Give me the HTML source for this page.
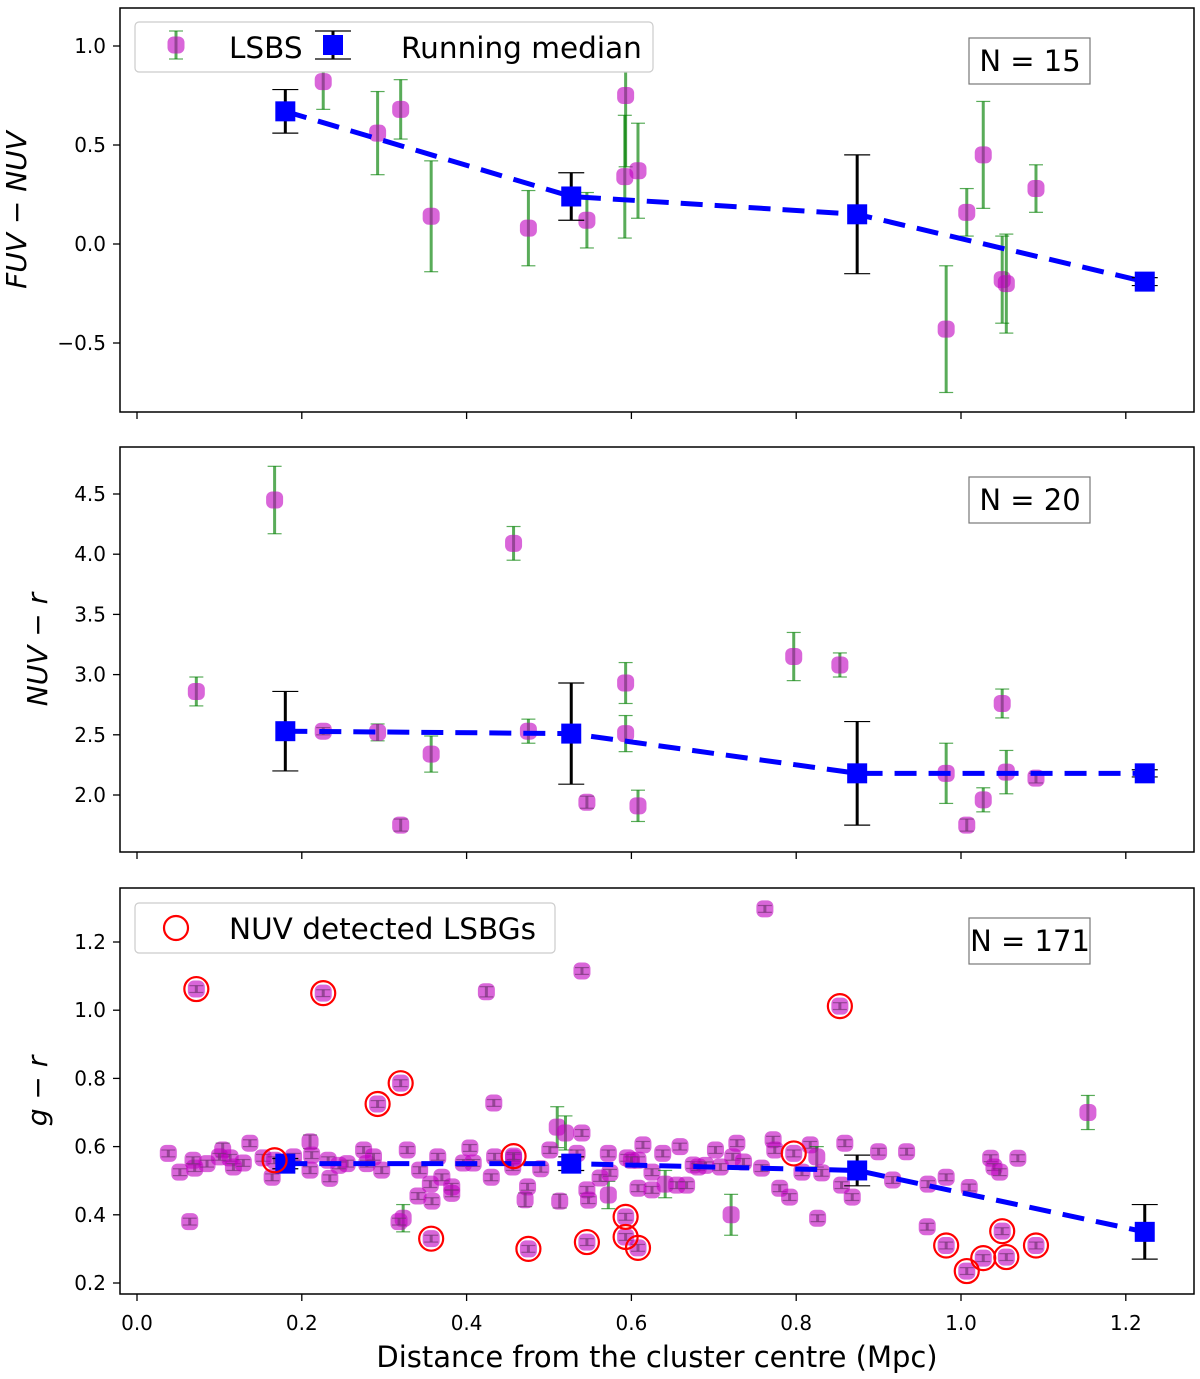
<!DOCTYPE html>
<html><head><meta charset="utf-8"><style>
html,body{margin:0;padding:0;background:#fff;}
svg{display:block;font-family:"DejaVu Sans","Liberation Sans",sans-serif;}
</style></head><body>
<svg id="chart" width="1200" height="1379" viewBox="0 0 1200 1379" xmlns="http://www.w3.org/2000/svg"></svg>
<script>
// ---------- DATA ----------
const p1X=[0.226,0.292,0.320,0.357,0.475,0.546,0.593,0.592,0.608,0.982,1.007,1.027,1.050,1.055,1.091];
const p1Y=[0.82,0.56,0.68,0.14,0.08,0.12,0.75,0.34,0.37,-0.43,0.16,0.45,-0.18,-0.20,0.28];
const p1E=[0.14,0.21,0.15,0.28,0.19,0.14,0.36,0.31,0.24,0.32,0.12,0.27,0.22,0.25,0.12];
const p2X=[0.072,0.167,0.226,0.292,0.320,0.357,0.457,0.475,0.546,0.593,0.593,0.608,0.797,0.853,0.982,1.007,1.027,1.050,1.055,1.091];
const p2Y=[2.86,4.45,2.53,2.52,1.75,2.34,4.09,2.53,1.94,2.93,2.51,1.91,3.15,3.08,2.18,1.75,1.96,2.76,2.19,2.14];
const p2E=[0.12,0.28,0.03,0.07,0.05,0.15,0.14,0.10,0.05,0.17,0.15,0.13,0.20,0.10,0.25,0.05,0.10,0.12,0.18,0.04];
const medX=[0.18,0.527,0.874,1.223];
const med1Y=[0.67,0.24,0.15,-0.19], med1E=[0.11,0.12,0.30,0.02];
const med2Y=[2.53,2.51,2.18,2.18], med2E=[0.33,0.42,0.43,0.03];
const med3Y=[0.55,0.55,0.53,0.35], med3E=[0.015,0.02,0.045,0.08];
const nuvX=[0.072,0.226,0.292,0.320,0.357,0.457,0.475,0.546,0.593,0.593,0.608,0.797,0.853,0.982,1.007,1.027,1.050,1.055,1.091,0.167];
const nuvY=[1.062,1.05,0.725,0.786,0.33,0.572,0.30,0.32,0.394,0.335,0.303,0.58,1.012,0.31,0.235,0.273,0.352,0.276,0.31,0.56];
const p3X=[0.762,0.54,0.424,0.433,1.154,0.064,0.721,0.826,0.959,0.513,0.323,0.318,1.069,
0.038,0.052,0.07,0.068,0.104,0.113,0.117,0.10,0.129,0.137,0.164,0.153,0.21,0.212,0.21,0.234,0.232,0.255,0.275,0.279,0.287,0.297,0.328,0.343,0.356,0.341,0.358,0.382,0.382,0.365,0.37,0.404,0.396,0.408,0.43,0.434,0.456,
0.457,0.474,0.471,0.51,0.52,0.54,0.501,0.534,0.546,0.548,0.572,0.572,0.562,0.574,0.595,0.608,0.614,0.608,0.625,0.625,0.638,0.641,0.655,0.667,0.659,0.675,0.681,0.702,0.708,0.723,0.728,0.736,0.758,0.772,0.774,0.78,0.792,0.817,0.825,0.807,0.831,0.859,0.855,0.868,0.9,0.917,0.934,0.96,0.982,1.01,1.036,1.04,1.047,0.085,0.19,0.245,0.49,0.60,0.69];
const p3Y=[1.297,1.115,1.054,0.728,0.70,0.38,0.40,0.39,0.365,0.44,0.39,0.38,0.566,
0.58,0.525,0.537,0.56,0.59,0.567,0.54,0.57,0.552,0.61,0.51,0.567,0.614,0.575,0.531,0.507,0.56,0.55,0.59,0.55,0.57,0.531,0.59,0.531,0.49,0.455,0.44,0.482,0.463,0.57,0.51,0.596,0.552,0.552,0.51,0.57,0.54,
0.567,0.482,0.444,0.657,0.64,0.64,0.59,0.58,0.473,0.443,0.58,0.458,0.508,0.523,0.567,0.56,0.605,0.478,0.473,0.525,0.58,0.49,0.487,0.487,0.6,0.546,0.54,0.59,0.54,0.57,0.61,0.555,0.537,0.62,0.59,0.478,0.452,0.605,0.57,0.525,0.523,0.61,0.487,0.452,0.585,0.502,0.585,0.49,0.51,0.48,0.566,0.54,0.525,0.55,0.57,0.545,0.535,0.56,0.545];
const p3E=[0.01,0.01,0.015,0.01,0.05,0.01,0.06,0.01,0.01,0.02,0.04,0.01,0.01,
0.01,0.01,0.01,0.01,0.02,0.01,0.01,0.01,0.01,0.01,0.01,0.01,0.02,0.01,0.01,0.01,0.01,0.01,0.01,0.01,0.01,0.01,0.01,0.01,0.01,0.01,0.01,0.01,0.01,0.01,0.01,0.01,0.01,0.01,0.01,0.01,0.01,
0.01,0.01,0.02,0.06,0.05,0.01,0.01,0.01,0.01,0.01,0.01,0.04,0.01,0.01,0.01,0.01,0.01,0.01,0.01,0.01,0.01,0.04,0.01,0.01,0.01,0.01,0.01,0.01,0.01,0.01,0.01,0.01,0.01,0.01,0.01,0.01,0.01,0.01,0.03,0.01,0.01,0.01,0.01,0.01,0.01,0.01,0.01,0.01,0.01,0.01,0.01,0.01,0.01,0.01,0.01,0.01,0.01,0.01,0.01];
const xTicks=[0.0,0.2,0.4,0.6,0.8,1.0,1.2];
const y1Ticks=[1.0,0.5,0.0,-0.5], y1Labels=["1.0","0.5","0.0","\u22120.5"];
const y2Ticks=[4.5,4.0,3.5,3.0,2.5,2.0];
const y3Ticks=[1.2,1.0,0.8,0.6,0.4,0.2];

// ---------- AXES ----------
const NS="http://www.w3.org/2000/svg";
const svg=document.getElementById('chart');
function sx(v){return 137+v*824;}
const panels=[
 {top:8,bot:412,y:v=>244-v*198},
 {top:447,bot:852,y:v=>795-(v-2)*120.4},
 {top:888,bot:1294,y:v=>942-(v-1.2)*341}
];
function mk(tag,attrs,parent){const e=document.createElementNS(NS,tag);for(const k in attrs)e.setAttribute(k,attrs[k]);(parent||svg).appendChild(e);return e;}
function txt(s,x,y,attrs,parent){const e=mk('text',Object.assign({x:x,y:y},attrs),parent);e.textContent=s;return e;}

function errbar(g,x,y,e,col,cap,w,yf){
  mk('line',{x1:sx(x),x2:sx(x),y1:yf(y-e),y2:yf(y+e),stroke:col,'stroke-width':w},g);
  mk('line',{x1:sx(x)-cap,x2:sx(x)+cap,y1:yf(y-e),y2:yf(y-e),stroke:col,'stroke-width':1.2},g);
  mk('line',{x1:sx(x)-cap,x2:sx(x)+cap,y1:yf(y+e),y2:yf(y+e),stroke:col,'stroke-width':1.2},g);
}
function drawPoints(pi,X,Y,E,name){
  const P=panels[pi];
  const g=mk('g',{});
  
  
  for(let i=0;i<X.length;i++){
    errbar(g,X[i],Y[i],E[i],'rgba(0,128,0,0.65)',7,3,P.y);
    const c=mk('rect',{x:sx(X[i])-8.5,y:P.y(Y[i])-8.5,width:17,height:17,rx:6,fill:'rgba(191,0,191,0.6)'},g);
    
    
  }
}
function drawMedian(pi,Y,E,name){
  const P=panels[pi];
  const g=mk('g',{});
  
  
  mk('polyline',{points:medX.map((x,i)=>sx(x)+','+P.y(Y[i])).join(' '),fill:'none',stroke:'#0000ff','stroke-width':5,'stroke-dasharray':'22,12'},g);
  for(let i=0;i<medX.length;i++){
    errbar(g,medX[i],Y[i],E[i],'#000',13,3,P.y);
    const r=mk('rect',{x:sx(medX[i])-10,y:P.y(Y[i])-10,width:20,height:20,fill:'#0000ff'},g);
    
    
  }
}
function frame(pi,ticks,labels,ylabel,nlabel,showX){
  const P=panels[pi];
  const g=mk('g',{});
  
  
  mk('rect',{x:120,y:P.top,width:1074,height:P.bot-P.top,fill:'none',stroke:'#000','stroke-width':1.5},g);
  ticks.forEach((t,i)=>{
    const y=P.y(t);
    mk('line',{x1:113,x2:120,y1:y,y2:y,stroke:'#000','stroke-width':1.3},g);
    txt(labels[i],106,y+7,{'font-size':20,'text-anchor':'end'},g);
  });
  xTicks.forEach(t=>{
    mk('line',{x1:sx(t),x2:sx(t),y1:P.bot,y2:P.bot+7,stroke:'#000','stroke-width':1.3},g);
    if(showX)txt(t.toFixed(1),sx(t),P.bot+36,{'font-size':20,'text-anchor':'middle'},g);
  });
  const yl=txt('',0,0,{'font-size':28,'text-anchor':'middle',transform:`translate(${pi===0?26:47},${(P.top+P.bot)/2}) rotate(-90)`},g);
  yl.innerHTML=ylabel;
  const nb=mk('g',{},g);
  
  
  mk('rect',{x:969,y:P.top+30,width:121,height:46,fill:'#fff',stroke:'#777','stroke-width':1.2},nb);
  txt(nlabel,1030,P.top+63,{'font-size':29,'text-anchor':'middle'},nb);
}
frame(0,y1Ticks,y1Labels,'<tspan font-style="italic">FUV</tspan> \u2212 <tspan font-style="italic">NUV</tspan>','N = 15',false);
frame(1,y2Ticks,y2Ticks.map(v=>v.toFixed(1)),'<tspan font-style="italic">NUV</tspan> \u2212 <tspan font-style="italic">r</tspan>','N = 20',false);
frame(2,y3Ticks,y3Ticks.map(v=>v.toFixed(1)),'<tspan font-style="italic">g</tspan> \u2212 <tspan font-style="italic">r</tspan>','N = 171',true);

drawPoints(0,p1X,p1Y,p1E,'panel-1-lsbs');
drawMedian(0,med1Y,med1E,'panel-1-running-median');
drawPoints(1,p2X,p2Y,p2E,'panel-2-lsbs');
drawMedian(1,med2Y,med2E,'panel-2-running-median');
drawPoints(2,p3X.concat(nuvX),p3Y.concat(nuvY),p3E.concat(nuvX.map(()=>0.01)),'panel-3-lsbs');
drawMedian(2,med3Y,med3E,'panel-3-running-median');
const ng=mk('g',{});


for(let i=0;i<nuvX.length;i++){
  const c=mk('circle',{cx:sx(nuvX[i]),cy:panels[2].y(nuvY[i]),r:12,fill:'none',stroke:'#ff0000','stroke-width':2.2},ng);
  
  
}
const xl=txt('Distance from the cluster centre (Mpc)',657,1367,{'font-size':29,'text-anchor':'middle'});



// legends
const lg1=mk('g',{});


mk('rect',{x:135,y:22,width:518,height:50,rx:4,fill:'#fff',stroke:'#ccc','stroke-width':1.2},lg1);
mk('line',{x1:176,x2:176,y1:31,y2:59,stroke:'rgba(0,128,0,0.65)','stroke-width':3},lg1);
mk('line',{x1:169,x2:183,y1:31,y2:31,stroke:'rgba(0,128,0,0.65)','stroke-width':1.2},lg1);
mk('line',{x1:169,x2:183,y1:59,y2:59,stroke:'rgba(0,128,0,0.65)','stroke-width':1.2},lg1);
mk('rect',{x:167.5,y:36.5,width:17,height:17,rx:6,fill:'rgba(191,0,191,0.6)'},lg1);
txt('LSBS',229,58,{'font-size':29.5},lg1);
mk('line',{x1:333,x2:333,y1:31,y2:59,stroke:'#000','stroke-width':3},lg1);
mk('line',{x1:315,x2:351,y1:31,y2:31,stroke:'#000','stroke-width':1.2},lg1);
mk('line',{x1:315,x2:351,y1:59,y2:59,stroke:'#000','stroke-width':1.2},lg1);
mk('rect',{x:323,y:35,width:20,height:20,fill:'#0000ff'},lg1);
txt('Running median',401,58,{'font-size':29.5},lg1);
const lg3=mk('g',{});


mk('rect',{x:135,y:903,width:420,height:50,rx:4,fill:'#fff',stroke:'#ccc','stroke-width':1.2},lg3);
mk('circle',{cx:176,cy:928,r:12,fill:'none',stroke:'#ff0000','stroke-width':2.2},lg3);
txt('NUV detected LSBGs',229,939,{'font-size':29.5},lg3);
</script>
</body></html>
